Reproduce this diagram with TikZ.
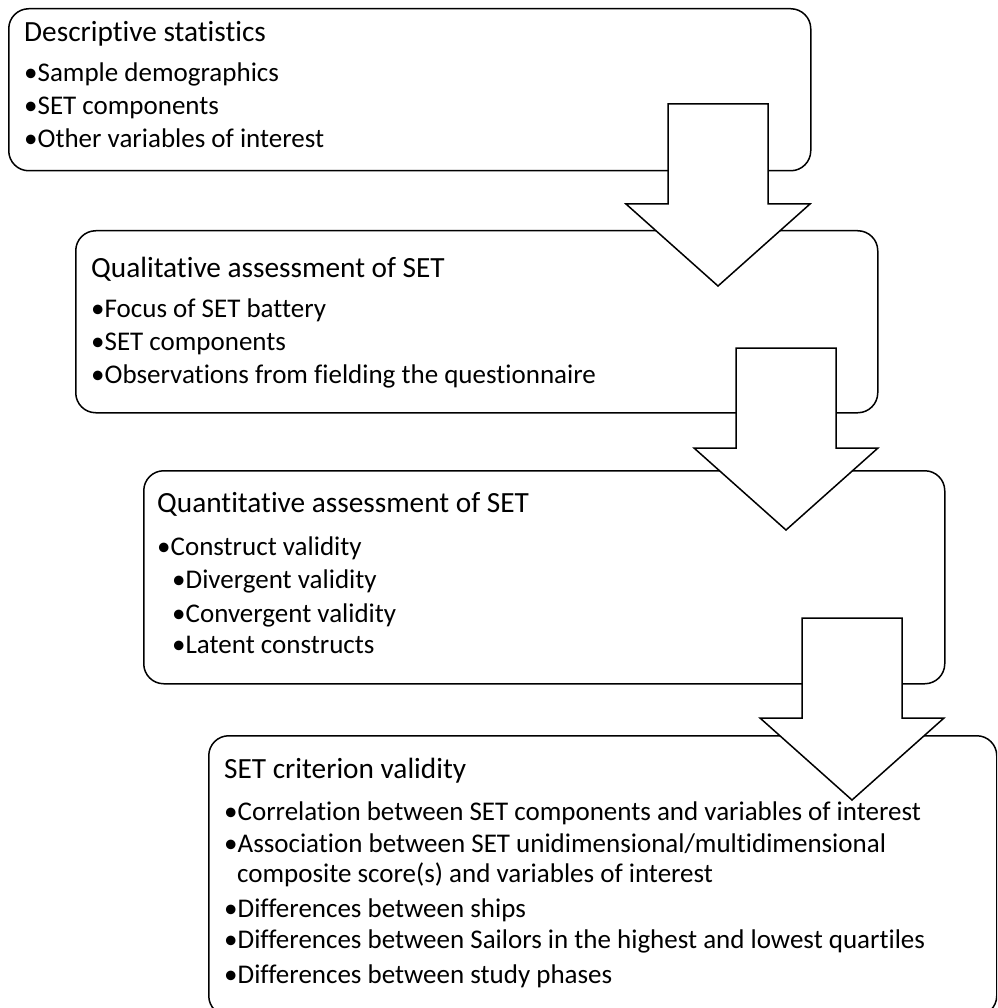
\documentclass[tikz,border=0pt]{standalone}
\usepackage{fontspec}
\setmainfont{Carlito}[Ligatures=NoCommon]
\usetikzlibrary{positioning}

\tikzset{
	stage/.style={draw,line width=1.5pt,rounded corners=20pt,anchor=north west,inner sep=0pt},
	item/.style={anchor=base west,inner sep=0pt,font=\fontsize{27}{33}\selectfont},
	title/.style={item,font=\fontsize{29.3}{34}\selectfont},
	flow/.style={draw,line width=1.5pt,fill=white,line join=miter}
}

% block arrow: centre x, top y
\newcommand{\stagearrow}[2]{%
	\draw[flow] (#1-50,#2) -- ++(100,0) -- ++(0,100) -- ++(42,0)
		-- (#1,#2+182) -- (#1-92,#2+100) -- ++(42,0) -- cycle;}

\begin{document}
\begin{tikzpicture}[x=1pt,y=-1pt]
	\clip (0,0) rectangle (997,1008);
	\fill[white] (0,0) rectangle (997,1008);
	% boxes
	\node[stage,minimum width=802pt,minimum height=162pt] (desc) at (8,8) {};
	\node[stage,minimum width=802pt,minimum height=182pt] (qual) at (75,230) {};
	\node[stage,minimum width=801pt,minimum height=213pt] (quant) at (143,470) {};
	\node[stage,minimum width=788pt,minimum height=280pt] (crit) at (208,735) {};
	% arrows
	\stagearrow{718}{104}
	\stagearrow{786}{348}
	\stagearrow{852}{618}
	% texts
	\node[title] (desc0) at (24,42) {Descriptive statistics};
	\foreach \txt [count=\i] in {Sample demographics,SET components,Other variables of interest}
		\node[item] (desc\i) at (24,49+33*\i) {•\txt};
	\node[title] (qual0) at (91,277) {Qualitative assessment of SET};
	\foreach \txt [count=\i] in {Focus of SET battery,SET components,Observations from fielding the questionnaire}
		\node[item] (qual\i) at (91,284+33*\i) {•\txt};
	\node[title] (quant0) at (157,512) {Quantitative assessment of SET};
	\node[item] (quant1) at (157,555) {•Construct validity};
	\node[item] (quant2) at (172,588) {•Divergent validity};
	\node[item] (quant3) at (172,622) {•Convergent validity};
	\node[item] (quant4) at (172,653) {•Latent constructs};
	\node[title] (crit0) at (224,778) {SET criterion validity};
	\node[item] (crit1) at (224,820) {•Correlation between SET components and variables of interest};
	\node[item] (crit2) at (224,852) {•Association between SET unidimensional/multidimensional};
	\node[item] (crit3) at (237,882) {composite score(s) and variables of interest};
	\node[item] (crit4) at (224,917) {•Differences between ships};
	\node[item] (crit5) at (224,948) {•Differences between Sailors in the highest and lowest quartiles};
	\node[item] (crit6) at (224,983) {•Differences between study phases};
\end{tikzpicture}
\end{document}
